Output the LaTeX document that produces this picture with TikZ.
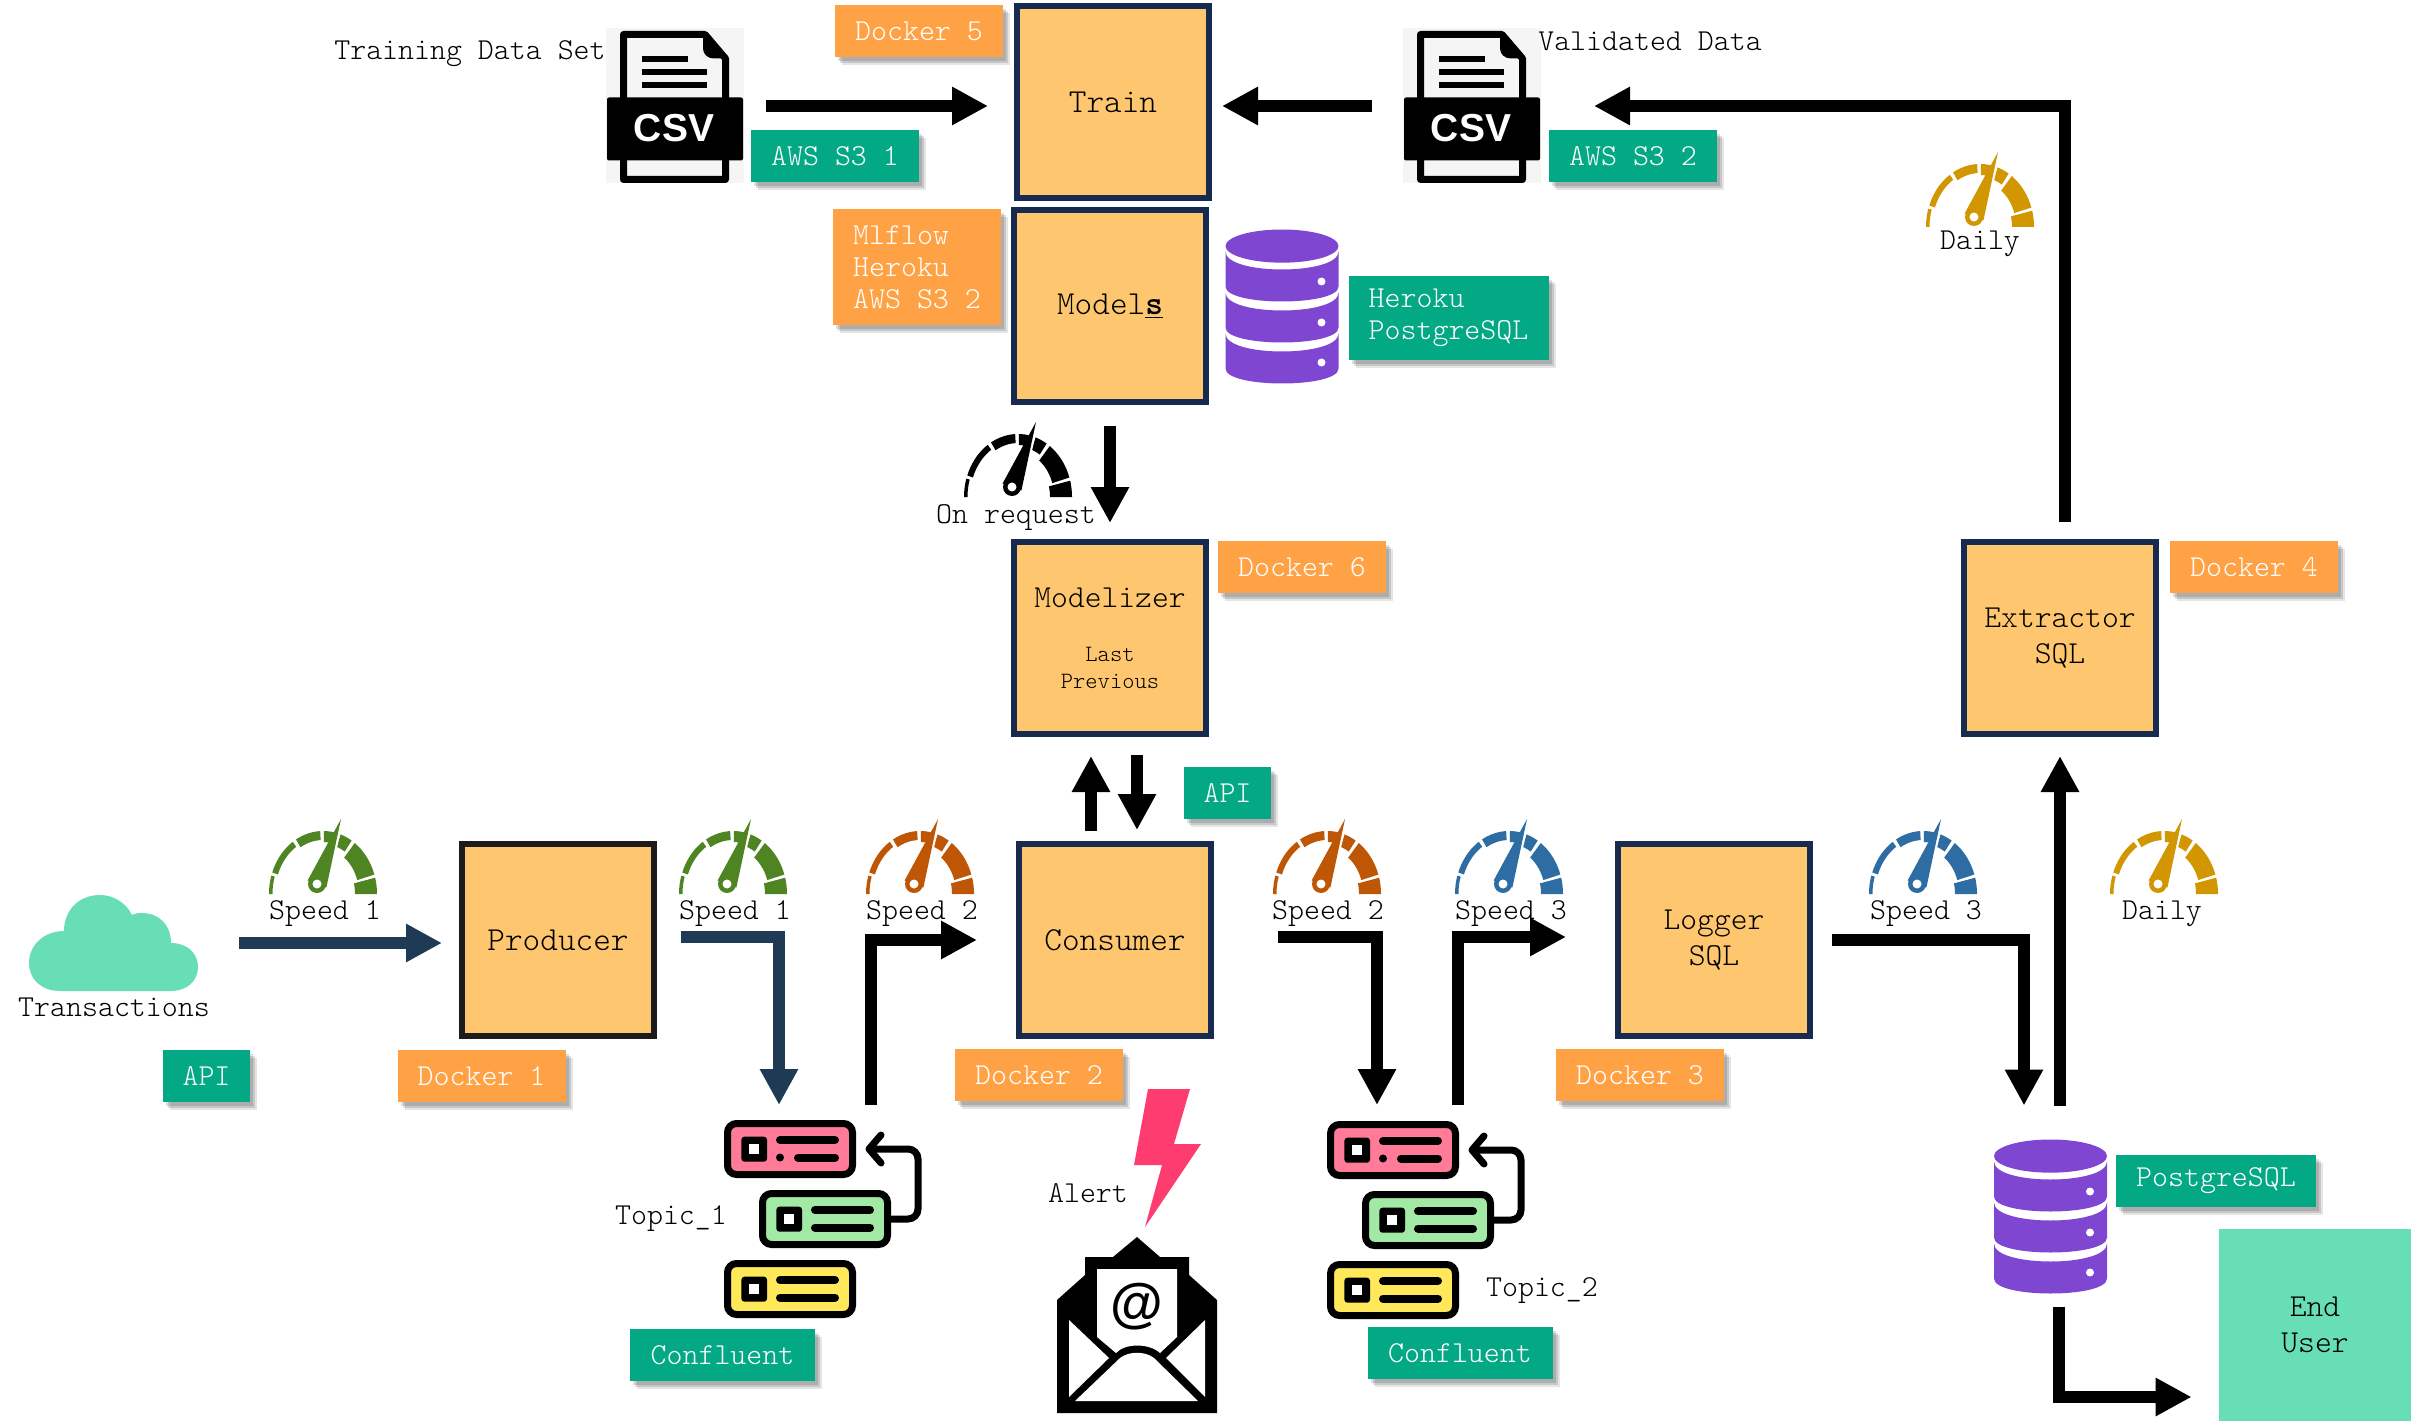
\documentclass[tikz,border=0pt]{standalone}
\usepackage{fontspec}
\usetikzlibrary{positioning,arrows.meta,shadows}
\newfontfamily\iconfont{Liberation Sans}
\newcommand{\tagmono}{\ttfamily\fontseries{l}\fontsize{15.2}{16}\selectfont}
\newcommand{\boxmono}{\ttfamily\fontseries{l}\fontsize{16}{18}\selectfont}
\newcommand{\wordmono}{\ttfamily\fontseries{l}\fontsize{16.8}{18}\selectfont}
\newcommand{\smallmono}{\ttfamily\fontseries{l}\fontsize{11.7}{13.5}\selectfont}
\definecolor{boxfill}{HTML}{FFC670}
\definecolor{boxnavy}{HTML}{172B50}
\definecolor{boxblack}{HTML}{1C1A1A}
\definecolor{tagorange}{HTML}{FFA245}
\definecolor{taggreen}{HTML}{03A985}
\definecolor{mint}{HTML}{68DEB6}
\definecolor{arrownavy}{HTML}{1F3A54}
\definecolor{dbpurple}{HTML}{7F46D2}
\definecolor{gaugegreen}{HTML}{4E8522}
\definecolor{gaugerust}{HTML}{BF5606}
\definecolor{gaugeblue}{HTML}{2E6DA4}
\definecolor{gaugegold}{HTML}{D29600}
\definecolor{kafkapink}{HTML}{FF7B98}
\definecolor{kafkagreen}{HTML}{A2E9A6}
\definecolor{kafkayellow}{HTML}{FFE95A}
\definecolor{boltpink}{HTML}{FF3C70}
\definecolor{csvpaper}{HTML}{F5F5F5}
\tikzset{
  box/.style={draw=boxnavy, line width=3pt, fill=boxfill, minimum size=96pt, inner sep=0pt, align=center, font=\boxmono},
  blackbox/.style={box, draw=boxblack},
  softshadow/.style={drop shadow={shadow xshift=1.5pt, shadow yshift=-2pt, fill=black, opacity=.13}, drop shadow={shadow xshift=2.5pt, shadow yshift=-3pt, fill=black, opacity=.13}, drop shadow={shadow xshift=3.5pt, shadow yshift=-4pt, fill=black, opacity=.1}},
  dockertag/.style={fill=tagorange, text=white, font=\tagmono, align=left, inner sep=0pt, outer sep=0pt, minimum width=84pt, minimum height=26pt, softshadow},
  apitag/.style={dockertag, fill=taggreen},
  note/.style={font=\tagmono, align=center, inner sep=0pt, outer sep=0pt},
  iconspot/.style={inner sep=0pt, outer sep=0pt},
  arr/.style={-{Triangle[length=18pt, width=18pt]}, line width=6pt, black},
  navyarr/.style={arr, arrownavy},
  pics/gauge/.style={code={
    \foreach \start/\stop/\wide in {180/163/3.5, 160/124/6, 120/93/9, 89/75/11, 71/58/13, 54/18/18, 15/0/22}
      \fill[#1] plot[domain=\start:\stop, samples=10] ({54+54*cos(\x)},{-63*sin(\x)}) -- plot[domain=\stop:\start, samples=10] ({54+(54-\wide)*cos(\x)},{-(63-\wide)*sin(\x)}) -- cycle;
    \draw[white, line width=1.2pt] (70,-60) -- (57.4,-6.5) -- (38.6,-13.5) -- cycle;
    \fill[#1] (72,-75) -- (57.4,-6.5) -- (38.6,-13.5) -- cycle;
    \fill[#1] (48,-10) circle[radius=9];
    \fill[white] (48,-10) circle[radius=4.5];
  }},
  pics/cloudicon/.style={code={
    \fill[mint] (31,96) .. controls (12,96) and (0,84) .. (0,68) .. controls (0,50) and (15,36) .. (35,36) .. controls (35,15) and (50,0) .. (71,0) .. controls (85,0) and (97,8) .. (103,20) .. controls (107,18) and (110,18) .. (113,18) .. controls (130,18) and (142,30) .. (142,48) .. controls (158,48) and (169,58) .. (169,72) .. controls (169,86) and (158,96) .. (142,96) -- cycle;
  }},
  pics/csvfile/.style={code={
    \fill[csvpaper] (0,0) rectangle (138,155);
    \draw[black, line width=3.5pt, fill=csvpaper, line join=round] (17.5,6) -- (99,6) -- (119.5,30) -- (119.5,151) -- (17.5,151) -- cycle;
    \fill[black] (97,6) -- (97,20) .. controls (97,26) and (102,30) .. (108,30) -- (119.5,30) -- cycle;
    \foreach \ypos/\xend in {31/82, 44/101, 57/101}
      \fill[black] (36,\ypos-3) rectangle (\xend,\ypos+3);
    \fill[black, rounded corners=1pt] (1,69) rectangle (137,132);
    \node[text=white, inner sep=0pt, font={\fontsize{19.5}{20}\selectfont\iconfont\bfseries}] (-word) at (68,100) {CSV};
  }},
  pics/dbstack/.style={code={
    \fill[dbpurple] (56.5,16.6) ellipse[x radius=56.5, y radius=16.6];
    \foreach \ytop/\ydot in {22/52, 63/93, 104/133} {
      \fill[dbpurple] (0,\ytop) .. controls (0,\ytop+24) and (113,\ytop+24) .. (113,\ytop) -- (113,\ytop+35) .. controls (113,\ytop+55) and (0,\ytop+55) .. (0,\ytop+35) -- cycle;
      \fill[white] (96,\ydot) circle[radius=4];
    }
  }},
  pics/topicstack/.style={code={
    \foreach \xpos/\ypos/\rowfill/\xline in {0/0/kafkapink/74, 35/70/kafkagreen/56, 0/140/kafkayellow/56} {
      \begin{scope}[shift={(\xpos,\ypos)}]
        \draw[black, line width=3.5pt, fill=\rowfill, rounded corners=4.5pt] (3.5,3.5) rectangle (128.5,54.5);
        \fill[black, rounded corners=1.5pt] (17.4,16.7) rectangle (43,41.7);
        \fill[white] (25,24) rectangle (35,34);
        \draw[black, line width=4pt, line cap=round] (56,20) -- (111,20);
        \draw[black, line width=4pt, line cap=round] (\xline,37.5) -- (111,37.5);
      \end{scope}
    }
    \fill[black] (56,37.5) circle[radius=4];
    \draw[black, line width=3.5pt, rounded corners=5pt] (167,99) -- (194,99) -- (194,29) -- (146,29);
    \draw[black, line width=3.5pt, line cap=round, line join=round] (157,15) -- (145,29) -- (157,43);
  }},
  pics/mailicon/.style={code={
    \fill[black] (80,0) -- (56,20) -- (28,20) -- (28,38) -- (0,63) -- (0,176) -- (160,176) -- (160,63) -- (132,38) -- (132,20) -- (103,20) -- cycle;
    \fill[white] (40,32) -- (120,32) -- (120,100) -- (103,116) .. controls (92,106) and (68,106) .. (59,116) -- (40,100) -- cycle;
    \fill[white] (12,83) -- (52,121) -- (12,160) -- cycle;
    \fill[white] (148,83) -- (109,121) -- (148,160) -- cycle;
    \fill[white] (18,164) -- (63,121) .. controls (72,114) and (88,114) .. (97,121) -- (141,164) -- cycle;
    \node[inner sep=0pt, font={\fontsize{27}{27}\selectfont\iconfont\bfseries}] (-at) at (80,70) {@};
  }}
}
\begin{document}
\begin{tikzpicture}[x=0.5pt, y=-0.5pt]
\useasboundingbox (0,0) rectangle (2420,1428);
\node[blackbox, font=\wordmono] (producer) at (558,940) {Producer};
\node[box, font=\wordmono, right=179.5pt of producer] (consumer) {Consumer};
\node[box, right=200.5pt of consumer] (logger) {Logger\\SQL};
\node[box, above right=52pt and 74pt of logger] (extractor) {Extractor\\SQL};
\node[box, above=52pt of consumer, xshift=-2.5pt] (modelizer) {Modelizer\\[9pt]{\smallmono Last}\\[-4.5pt]{\smallmono Previous}};
\node[box, font=\wordmono, above=67pt of modelizer] (models) {Model\textbf{\underline{s}}};
\node[box, font=\wordmono, above=3pt of models, xshift=1.5pt] (train) {Train};
\node[fill=mint, inner sep=0pt, minimum width=96pt, minimum height=96pt, align=center, font=\boxmono] (enduser) at (2315,1325) {End\\User};

\node[iconspot, minimum width=85pt, minimum height=48pt] (cloud) at (114,943) {};
\node[iconspot, minimum width=69pt, minimum height=77.5pt] (csvA) at (675,106) {};
\node[iconspot, minimum width=69pt, minimum height=77.5pt] (csvB) at (1472,106) {};
\node[iconspot, minimum width=56.5pt, minimum height=76.5pt] (dbA) at (1282,306) {};
\node[iconspot, minimum width=56.5pt, minimum height=76.5pt] (dbB) at (2050.5,1216) {};
\node[iconspot, minimum width=83.5pt, minimum height=99pt] (topicA) at (807.5,1219) {};
\node[iconspot, minimum width=83.5pt, minimum height=99pt] (topicB) at (1410.5,1220) {};

\pic at (cloud.north west) {cloudicon};
\pic (csvApic) at (csvA.north west) {csvfile};
\pic (csvBpic) at (csvB.north west) {csvfile};
\pic at (dbA.north west) {dbstack};
\pic at (dbB.north west) {dbstack};
\pic at (topicA.north west) {topicstack};
\pic at (topicB.north west) {topicstack};
\pic (mail) at (1057,1237) {mailicon};
\fill[boltpink] (1148,1089) -- (1190,1089) -- (1174,1144) -- (1201,1144) -- (1145,1227) -- (1162,1165) -- (1134,1165) -- cycle;

\pic at (269,894) {gauge=gaugegreen};
\pic at (679,894) {gauge=gaugegreen};
\pic at (866,894) {gauge=gaugerust};
\pic at (1273,894) {gauge=gaugerust};
\pic at (1455,894) {gauge=gaugeblue};
\pic at (1869,894) {gauge=gaugeblue};
\pic at (2110,894) {gauge=gaugegold};
\pic at (1926,227) {gauge=gaugegold};
\pic at (964,497) {gauge=black};

\node[dockertag, below=5.5pt of producer, xshift=-38.25pt] (dockerA) {Docker 1};
\node[dockertag, below=5pt of consumer, xshift=-38pt] (dockerB) {Docker 2};
\node[dockertag, below=5pt of logger, xshift=-37pt] (dockerC) {Docker 3};
\node[dockertag, right=5.5pt of extractor, yshift=35.5pt] (dockerD) {Docker 4};
\node[dockertag, left=5.5pt of train, yshift=35.5pt] (dockerE) {Docker 5};
\node[dockertag, right=4.5pt of modelizer, yshift=35.5pt] (dockerF) {Docker 6};
\node[dockertag, left=5pt of models, yshift=19.5pt, minimum height=58pt] (mlflow) {Mlflow\\Heroku\\AWS S3 2};
\node[apitag, below=15pt of modelizer, xshift=58.75pt, minimum width=43.5pt] (apiB) {API};
\node[apitag, below=29.5pt of cloud, xshift=46.25pt, minimum width=43.5pt] (apiA) {API};
\node[apitag, right=3.5pt of csvA, yshift=-25pt] (awsA) {AWS S3 1};
\node[apitag, right=4pt of csvB, yshift=-25pt] (awsB) {AWS S3 2};
\node[apitag, right=5pt of dbA, yshift=-6pt, minimum width=100pt, minimum height=42pt] (herokudb) {Heroku\\PostgreSQL};
\node[apitag, right=4.5pt of dbB, yshift=17.75pt, minimum width=100pt] (postgres) {PostgreSQL};
\node[apitag, below=5.5pt of topicA, xshift=-42.5pt, minimum width=92.5pt] (confluentA) {Confluent};
\node[apitag, below=4pt of topicB, xshift=24.75pt, minimum width=92.5pt] (confluentB) {Confluent};

\node[note] (trainset) at (470,54) {Training Data Set};
\node[note] (validated) at (1650,41) {Validated Data};
\node[note] (transactions) at (114,1007) {Transactions};
\node[note] (speedA) at (325,914) {Speed 1};
\node[note] (speedB) at (735,914) {Speed 1};
\node[note] (speedC) at (922,914) {Speed 2};
\node[note] (speedD) at (1328,914) {Speed 2};
\node[note] (speedE) at (1511,914) {Speed 3};
\node[note] (speedF) at (1926,914) {Speed 3};
\node[note] (dailyA) at (2162,914) {Daily};
\node[note] (dailyB) at (1980,244) {Daily};
\node[note] (onrequest) at (1016,518) {On request};
\node[note] (alert) at (1088,1193) {Alert};
\node[note] (topicnameA) at (671,1219) {Topic\_1};
\node[note] (topicnameB) at (1542,1291) {Topic\_2};

\draw[navyarr] ([xshift=20pt]cloud.east) -- ([xshift=-8.5pt,yshift=-1.5pt]producer.west);
\draw[navyarr] ([xshift=12pt,yshift=1.5pt]producer.east) -| ([xshift=-14.25pt,yshift=7.5pt]topicA.north);
\draw[arr] ([xshift=31.75pt,yshift=7.5pt]topicA.north) |- ([xshift=-19.5pt]consumer.west);
\draw[arr] ([xshift=32pt,yshift=1.5pt]consumer.east) -| ([xshift=-16.75pt,yshift=8pt]topicB.north);
\draw[arr] ([xshift=23.75pt,yshift=8pt]topicB.north) |- ([xshift=-24.5pt,yshift=1.5pt]logger.west);
\draw[arr] ([xshift=9.5pt]logger.east) -| ([xshift=-13.25pt,yshift=17pt]dbB.north);
\draw[arr] ([xshift=4.75pt,yshift=17pt]dbB.north) -- ([yshift=-9.5pt]extractor.south);
\draw[arr] ([xshift=2.5pt,yshift=8.5pt]extractor.north) |- ([xshift=26.5pt]csvB.east);
\draw[arr] ([xshift=11pt]csvA.east) -- ([xshift=-13pt,yshift=-2pt]train.west);
\draw[arr] ([xshift=-15.5pt]csvB.west) -- ([xshift=5pt,yshift=-2pt]train.east);
\draw[arr] ([yshift=-10.5pt]models.south) -- ([yshift=8pt]modelizer.north);
\draw[arr] ([xshift=-12pt,yshift=5pt]consumer.north) -- ([xshift=-9.5pt,yshift=-9.5pt]modelizer.south);
\draw[arr] ([xshift=13.5pt,yshift=-9pt]modelizer.south) -- ([xshift=11pt,yshift=5.5pt]consumer.north);
\draw[arr] ([xshift=4.25pt,yshift=-7pt]dbB.south) |- ([xshift=-13.5pt,yshift=-36pt]enduser.west);
\end{tikzpicture}
\end{document}
